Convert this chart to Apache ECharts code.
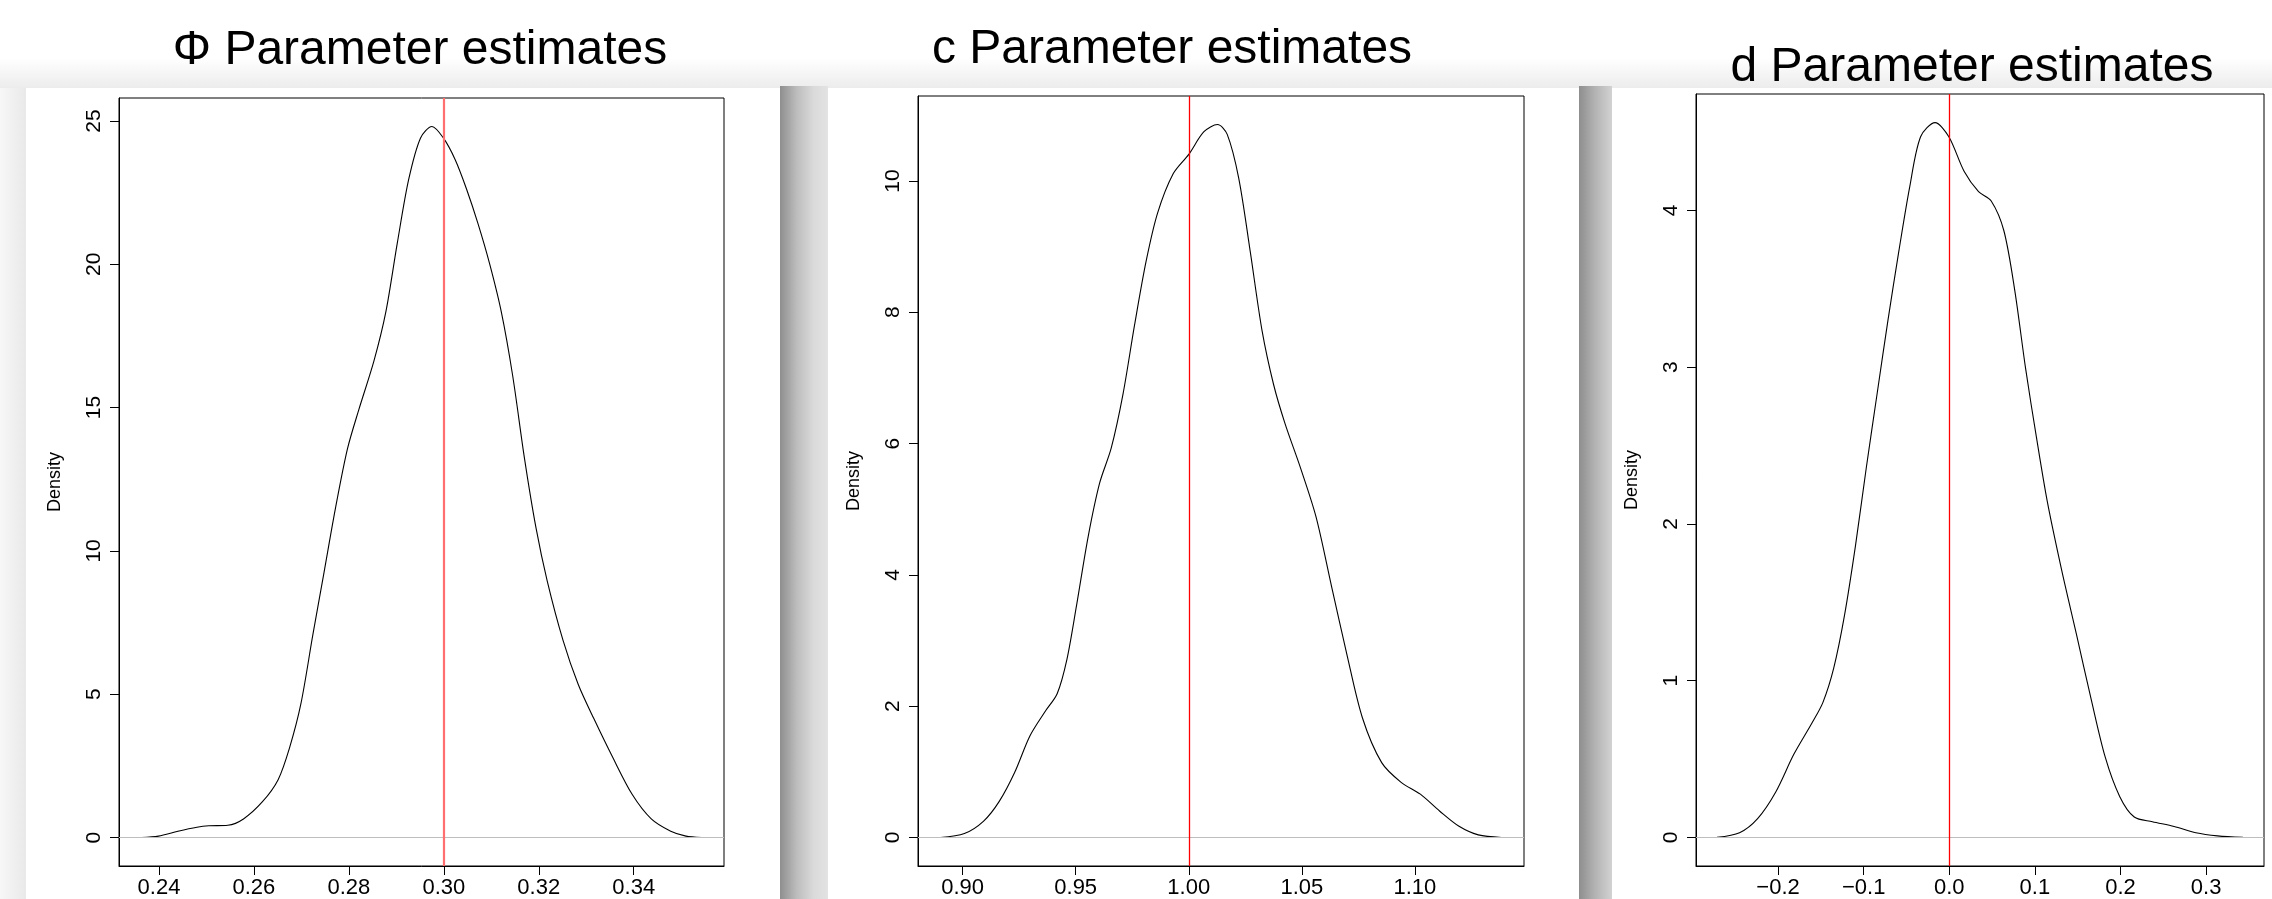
<!DOCTYPE html>
<html>
<head>
<meta charset="utf-8">
<title>Parameter estimates</title>
<script src="https://cdn.jsdelivr.net/npm/echarts@6/dist/echarts.min.js"></script>
<style>
  html, body { margin: 0; padding: 0; background: #fff; }
  #main { width: 2272px; height: 899px; }
</style>
</head>
<body>
<div id="main"></div>
<script>
// density estimates
const phiX = [0.2363, 0.2399, 0.2440, 0.2480, 0.2505, 0.2545, 0.2578, 0.2618, 0.2651, 0.2675, 0.2699, 0.2724, 0.2748, 0.2772, 0.2797, 0.2821, 0.2853, 0.2878, 0.2902, 0.2926, 0.2951, 0.2975, 0.2999, 0.3024, 0.3048, 0.3072, 0.3096, 0.3121, 0.3145, 0.3170, 0.3194, 0.3218, 0.3251, 0.3283, 0.3316, 0.3356, 0.3397, 0.3437, 0.3478, 0.3510, 0.3543];
const phiY = [0, 0.05, 0.22, 0.36, 0.41, 0.43, 0.65, 1.25, 2.02, 3.13, 4.67, 7.06, 9.28, 11.51, 13.56, 14.93, 16.64, 18.35, 20.74, 22.96, 24.41, 24.81, 24.41, 23.65, 22.62, 21.42, 20.05, 18.35, 16.12, 13.22, 10.82, 8.94, 6.89, 5.35, 4.15, 2.79, 1.50, 0.65, 0.22, 0.05, 0];

const cX = [0.8902, 0.9008, 0.9093, 0.9162, 0.9230, 0.9298, 0.9367, 0.9418, 0.9461, 0.9504, 0.9555, 0.9606, 0.9657, 0.9709, 0.9760, 0.9811, 0.9862, 0.9931, 1.0001, 1.0067, 1.0127, 1.0170, 1.0221, 1.0272, 1.0324, 1.0375, 1.0426, 1.0494, 1.0563, 1.0631, 1.0699, 1.0768, 1.0853, 1.0939, 1.1024, 1.1110, 1.1195, 1.1280, 1.1383];
const cY = [0, 0.06, 0.25, 0.55, 0.99, 1.55, 1.93, 2.19, 2.71, 3.54, 4.58, 5.40, 5.93, 6.75, 7.80, 8.77, 9.51, 10.11, 10.41, 10.75, 10.86, 10.71, 10.04, 8.92, 7.72, 6.90, 6.30, 5.63, 4.88, 3.83, 2.79, 1.82, 1.14, 0.84, 0.66, 0.40, 0.17, 0.04, 0];

const dX = [-0.2713, -0.2450, -0.2239, -0.2027, -0.1816, -0.1604, -0.1477, -0.1350, -0.1223, -0.1096, -0.0969, -0.0843, -0.0716, -0.0589, -0.0462, -0.0335, -0.0166, -0.0005, 0.0173, 0.0342, 0.0490, 0.0638, 0.0765, 0.0892, 0.1019, 0.1146, 0.1315, 0.1484, 0.1654, 0.1823, 0.1992, 0.2161, 0.2373, 0.2627, 0.2881, 0.3134, 0.3431];
const dY = [0, 0.03, 0.12, 0.29, 0.53, 0.73, 0.86, 1.08, 1.42, 1.86, 2.36, 2.83, 3.30, 3.74, 4.15, 4.47, 4.56, 4.47, 4.25, 4.12, 4.06, 3.87, 3.49, 2.99, 2.55, 2.14, 1.70, 1.30, 0.89, 0.51, 0.26, 0.13, 0.10, 0.07, 0.03, 0.01, 0];

const titles = ['Φ Parameter estimates', 'c Parameter estimates', 'd Parameter estimates'];
const trueValues = [0.30, 1.00, 0.0];

const phiTicks = [0.24, 0.26, 0.28, 0.30, 0.32, 0.34];
const cTicks = [0.90, 0.95, 1.00, 1.05, 1.10];
const dTicks = [-0.2, -0.1, 0.0, 0.1, 0.2, 0.3];
const phiYTicks = [0, 5, 10, 15, 20, 25];
const cYTicks = [0, 2, 4, 6, 8, 10];
const dYTicks = [0, 1, 2, 3, 4];

var FONT = 'Liberation Sans, Arial, Helvetica, sans-serif';

var panels = [
  { xs: phiX, ys: phiY, xt: phiTicks, yt: phiYTicks, dec: 2, grid: { left: 119, top: 98, width: 605, height: 770 }, redColor: '#ff6f6f', redWidth: 2.2 },
  { xs: cX, ys: cY, xt: cTicks, yt: cYTicks, dec: 2, grid: { left: 918, top: 96, width: 606, height: 772 }, redColor: '#ff0000', redWidth: 1.3 },
  { xs: dX, ys: dY, xt: dTicks, yt: dYTicks, dec: 1, grid: { left: 1696, top: 94, width: 568, height: 774 }, redColor: '#ff0000', redWidth: 1.3 }
];

// R style: axis range = data range padded by 4% on each side
function pad(arr) {
  var lo = Math.min.apply(null, arr), hi = Math.max.apply(null, arr);
  var e = (hi - lo) * 0.04;
  return [lo - e, hi + e];
}

function fmt(v, dec) {
  var s = v.toFixed(dec);
  return v < 0 ? '\u2212' + s.slice(1) : s;
}

var grids = [], xAxes = [], yAxes = [], series = [];
panels.forEach(function (p, i) {
  grids.push(Object.assign({ show: true, borderColor: '#000', borderWidth: 1, backgroundColor: 'transparent' }, p.grid));
  var xr = pad(p.xs), yr = pad(p.ys.concat([0]));
  xAxes.push({
    type: 'value', gridIndex: i, min: xr[0], max: xr[1],
    axisLine: { show: true, onZero: false, lineStyle: { color: '#000', width: 1 } },
    axisTick: { show: true, inside: false, length: 9, lineStyle: { color: '#000' }, customValues: p.xt },
    axisLabel: { show: true, margin: 11, color: '#000', fontSize: 22, fontFamily: FONT, customValues: p.xt,
      formatter: (function (dec) { return function (v) { return fmt(v, dec); }; })(p.dec) },
    splitLine: { show: false }
  });
  yAxes.push({
    type: 'value', gridIndex: i, min: yr[0], max: yr[1],
    name: 'Density', nameLocation: 'middle', nameGap: 55, nameRotate: 90,
    nameTextStyle: { color: '#000', fontSize: 18, fontFamily: FONT },
    axisLine: { show: true, onZero: false, lineStyle: { color: '#000', width: 1 } },
    axisTick: { show: true, inside: false, length: 9, lineStyle: { color: '#000' }, customValues: p.yt },
    axisLabel: { show: true, margin: 14, rotate: 90, color: '#000', fontSize: 21, fontFamily: FONT, customValues: p.yt },
    splitLine: { show: false }
  });
  series.push({
    type: 'line', xAxisIndex: i, yAxisIndex: i,
    data: p.xs.map(function (x, k) { return [x, p.ys[k]]; }),
    showSymbol: false, smooth: 0.3,
    lineStyle: { color: '#000', width: 1.1 },
    markLine: {
      silent: true, symbol: 'none', label: { show: false },
      data: [
        { yAxis: 0, lineStyle: { color: '#bebebe', width: 1.2, type: 'solid' } },
        { xAxis: trueValues[i], lineStyle: { color: p.redColor, width: p.redWidth, type: 'solid' } }
      ]
    }
  });
});

function hGrad(stops) {
  return { type: 'linear', x: 0, y: 0, x2: 1, y2: 0, colorStops: stops };
}

var graphics = [
  // faint shadow above the white panels
  { type: 'rect', z: -10, shape: { x: 0, y: 58, width: 2272, height: 30 },
    style: { fill: { type: 'linear', x: 0, y: 0, x2: 0, y2: 1, colorStops: [{ offset: 0, color: '#ffffff' }, { offset: 1, color: '#ececec' }] } } },
  { type: 'rect', z: -10, shape: { x: 0, y: 88, width: 26, height: 811 },
    style: { fill: hGrad([{ offset: 0, color: '#f7f7f7' }, { offset: 1, color: '#e9e9e9' }]) } },
  { type: 'rect', z: -10, shape: { x: 780, y: 86, width: 48, height: 813 },
    style: { fill: hGrad([{ offset: 0, color: '#8e8e8e' }, { offset: 0.35, color: '#bdbdbd' }, { offset: 0.7, color: '#dadada' }, { offset: 1, color: '#e3e3e3' }]) } },
  { type: 'rect', z: -10, shape: { x: 1579, y: 86, width: 33, height: 813 },
    style: { fill: hGrad([{ offset: 0, color: '#8e8e8e' }, { offset: 0.5, color: '#b4b4b4' }, { offset: 1, color: '#d2d2d2' }]) } },
  // white panels
  { type: 'rect', z: -9, shape: { x: 26, y: 88, width: 754, height: 811 }, style: { fill: '#fff' } },
  { type: 'rect', z: -9, shape: { x: 828, y: 88, width: 751, height: 811 }, style: { fill: '#fff' } },
  { type: 'rect', z: -9, shape: { x: 1612, y: 88, width: 660, height: 811 }, style: { fill: '#fff' } },
  // panel titles
  { type: 'text', z: 5, x: 420, y: 51, style: { text: titles[0], fill: '#000', font: '48px ' + FONT, textAlign: 'center', textVerticalAlign: 'middle' } },
  { type: 'text', z: 5, x: 1172, y: 50, style: { text: titles[1], fill: '#000', font: '48px ' + FONT, textAlign: 'center', textVerticalAlign: 'middle' } },
  { type: 'text', z: 5, x: 1972, y: 68, style: { text: titles[2], fill: '#000', font: '48px ' + FONT, textAlign: 'center', textVerticalAlign: 'middle' } }
];

var myChart = echarts.init(document.getElementById('main'), null, { renderer: 'canvas' });
var option = {
  animation: false,
  backgroundColor: '#fff',
  grid: grids,
  xAxis: xAxes,
  yAxis: yAxes,
  series: series,
  graphic: { elements: graphics }
};
myChart.setOption(option);
</script>
</body>
</html>
